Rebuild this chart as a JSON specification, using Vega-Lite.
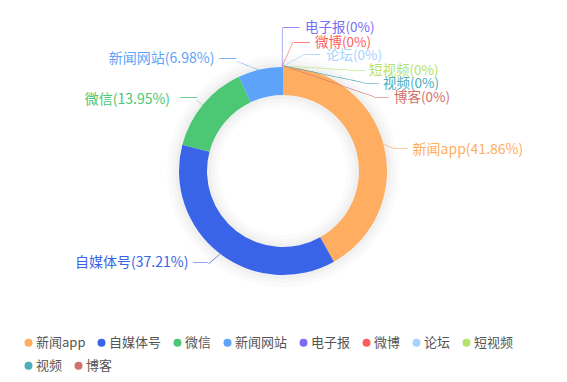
{
  "$schema": "https://vega.github.io/schema/vega-lite/v6.json",
  "width": 566,
  "height": 342,
  "padding": {"left": 0, "top": 0, "right": 1, "bottom": 40},
  "autosize": {"type": "none"},
  "background": "white",
  "config": {"view": {"stroke": null}, "font": "Noto Sans CJK SC", "text": {"font": "Noto Sans CJK SC", "baseline": "middle"}},
  "resolve": {"scale": {"color": "independent"}, "legend": {"color": "independent"}},
  "data": {"values": [
    {"name": "新闻app", "value": 18, "label": "新闻app(41.86%)", "idx": 1},
    {"name": "自媒体号", "value": 16, "label": "自媒体号(37.21%)", "idx": 2},
    {"name": "微信", "value": 6, "label": "微信(13.95%)", "idx": 3},
    {"name": "新闻网站", "value": 3, "label": "新闻网站(6.98%)", "idx": 4},
    {"name": "电子报", "value": 0, "label": "电子报(0%)", "idx": 5},
    {"name": "微博", "value": 0, "label": "微博(0%)", "idx": 6},
    {"name": "论坛", "value": 0, "label": "论坛(0%)", "idx": 7},
    {"name": "短视频", "value": 0, "label": "短视频(0%)", "idx": 8},
    {"name": "视频", "value": 0, "label": "视频(0%)", "idx": 9},
    {"name": "博客", "value": 0, "label": "博客(0%)", "idx": 10}
  ]},
  "layer": [
    {"data": {"values": [{}]}, "mark": {"type": "arc", "theta": 0, "theta2": 6.2832, "innerRadius": 64, "outerRadius": 116, "fill": "#000", "opacity": 0.015}, "encoding": {}},
    {"data": {"values": [{}]}, "mark": {"type": "arc", "theta": 0, "theta2": 6.2832, "innerRadius": 68, "outerRadius": 112, "fill": "#000", "opacity": 0.02}, "encoding": {}},
    {"data": {"values": [{}]}, "mark": {"type": "arc", "theta": 0, "theta2": 6.2832, "innerRadius": 72, "outerRadius": 108, "fill": "#000", "opacity": 0.025}, "encoding": {}},
    {
      "encoding": {
        "theta": {"field": "value", "type": "quantitative", "stack": true},
        "order": {"field": "idx", "type": "quantitative"},
        "color": {"field": "name", "type": "nominal", "legend": null,
          "scale": {"domain": ["新闻app", "自媒体号", "微信", "新闻网站", "电子报", "微博", "论坛", "短视频", "视频", "博客"],
                    "range": ["#FFAD60", "#3A64E8", "#4CC774", "#5EA3FA", "#7B6CF6", "#FF5E5E", "#A7D3FF", "#B4E36B", "#4BAEB8", "#D1716C"]}}
      },
      "layer": [
        {"mark": {"type": "arc", "innerRadius": 76, "outerRadius": 104}},

        {"mark": {"type": "text", "radius": 104, "align": "left", "dx": 29, "dy": 5, "fontSize": 14},
         "encoding": {"text": {"condition": {"test": "datum.name === '新闻app'", "field": "label"}, "value": ""}}},
        {"mark": {"type": "text", "radius": 104, "align": "center", "dx": 17.9, "dy": 4.8, "fontSize": 13},
         "encoding": {"text": {"condition": {"test": "datum.name === '新闻app'", "value": "─"}, "value": ""}}},
        {"mark": {"type": "text", "radius": 104, "align": "center", "dx": 6.2, "dy": 0, "angle": 22.8, "fontSize": 12.4},
         "encoding": {"text": {"condition": {"test": "datum.name === '新闻app'", "value": "─"}, "value": ""}}},

        {"mark": {"type": "text", "radius": 104, "align": "right", "dx": -31, "dy": 10, "fontSize": 14},
         "encoding": {"text": {"condition": {"test": "datum.name === '自媒体号'", "field": "label"}, "value": ""}}},
        {"mark": {"type": "text", "radius": 104, "align": "center", "dx": -19, "dy": 9.9, "fontSize": 15},
         "encoding": {"text": {"condition": {"test": "datum.name === '自媒体号'", "value": "─"}, "value": ""}}},
        {"mark": {"type": "text", "radius": 104, "align": "center", "dx": 7.6, "dy": 0, "angle": 139.3, "fontSize": 15.2},
         "encoding": {"text": {"condition": {"test": "datum.name === '自媒体号'", "value": "─"}, "value": ""}}},

        {"mark": {"type": "text", "radius": 104, "align": "right", "dx": -33, "dy": -4, "fontSize": 14},
         "encoding": {"text": {"condition": {"test": "datum.name === '微信'", "field": "label"}, "value": ""}}},
        {"mark": {"type": "text", "radius": 104, "align": "center", "dx": -14.6, "dy": -5.5, "fontSize": 17},
         "encoding": {"text": {"condition": {"test": "datum.name === '微信'", "value": "─"}, "value": ""}}},
        {"mark": {"type": "text", "radius": 104, "align": "center", "dx": 4.1, "dy": 0, "angle": -138, "fontSize": 8.2},
         "encoding": {"text": {"condition": {"test": "datum.name === '微信'", "value": "─"}, "value": ""}}},

        {"mark": {"type": "text", "radius": 104, "align": "right", "dx": -46, "dy": -10, "fontSize": 14},
         "encoding": {"text": {"condition": {"test": "datum.name === '新闻网站'", "field": "label"}, "value": ""}}},
        {"mark": {"type": "text", "radius": 104, "align": "center", "dx": -32.9, "dy": -9.5, "fontSize": 17},
         "encoding": {"text": {"condition": {"test": "datum.name === '新闻网站'", "value": "─"}, "value": ""}}},
        {"mark": {"type": "text", "radius": 104, "align": "center", "dx": 13.1, "dy": 0, "angle": -158.7, "fontSize": 13.1},
         "encoding": {"text": {"condition": {"test": "datum.name === '新闻网站'", "value": "──"}, "value": ""}}},

        {"mark": {"type": "text", "radius": 104, "align": "left", "dx": 22, "dy": -39, "fontSize": 13.5},
         "encoding": {"text": {"condition": {"test": "datum.name === '电子报'", "field": "label"}, "value": ""}}},
        {"mark": {"type": "text", "radius": 104, "align": "center", "dx": 8.2, "dy": -39.5, "fontSize": 16.3},
         "encoding": {"text": {"condition": {"test": "datum.name === '电子报'", "value": "─"}, "value": ""}}},
        {"mark": {"type": "text", "radius": 104, "align": "center", "dx": 19.75, "dy": 0, "angle": -90, "fontSize": 13.17},
         "encoding": {"text": {"condition": {"test": "datum.name === '电子报'", "value": "───"}, "value": ""}}},

        {"mark": {"type": "text", "radius": 104, "align": "left", "dx": 32, "dy": -24, "fontSize": 13.5},
         "encoding": {"text": {"condition": {"test": "datum.name === '微博'", "field": "label"}, "value": ""}}},
        {"mark": {"type": "text", "radius": 104, "align": "center", "dx": 19, "dy": -24.5, "fontSize": 16},
         "encoding": {"text": {"condition": {"test": "datum.name === '微博'", "value": "─"}, "value": ""}}},
        {"mark": {"type": "text", "radius": 104, "align": "center", "dx": 13.4, "dy": 0, "angle": -65.8, "fontSize": 13.45},
         "encoding": {"text": {"condition": {"test": "datum.name === '微博'", "value": "──"}, "value": ""}}},

        {"mark": {"type": "text", "radius": 104, "align": "left", "dx": 43, "dy": -11, "fontSize": 13.5},
         "encoding": {"text": {"condition": {"test": "datum.name === '论坛'", "field": "label"}, "value": ""}}},
        {"mark": {"type": "text", "radius": 104, "align": "center", "dx": 29, "dy": -12, "fontSize": 16},
         "encoding": {"text": {"condition": {"test": "datum.name === '论坛'", "value": "─"}, "value": ""}}},
        {"mark": {"type": "text", "radius": 104, "align": "center", "dx": 12.1, "dy": 0, "angle": -29.7, "fontSize": 12.1},
         "encoding": {"text": {"condition": {"test": "datum.name === '论坛'", "value": "──"}, "value": ""}}},

        {"mark": {"type": "text", "radius": 104, "align": "left", "dx": 86, "dy": 4, "fontSize": 13.5},
         "encoding": {"text": {"condition": {"test": "datum.name === '短视频'", "field": "label"}, "value": ""}}},
        {"mark": {"type": "text", "radius": 104, "align": "center", "dx": 74.5, "dy": 4, "fontSize": 15},
         "encoding": {"text": {"condition": {"test": "datum.name === '短视频'", "value": "─"}, "value": ""}}},
        {"mark": {"type": "text", "radius": 104, "align": "center", "dx": 33.6, "dy": 0, "angle": 3.4, "fontSize": 13.4},
         "encoding": {"text": {"condition": {"test": "datum.name === '短视频'", "value": "─────"}, "value": ""}}},

        {"mark": {"type": "text", "radius": 104, "align": "left", "dx": 100, "dy": 17, "fontSize": 13.5},
         "encoding": {"text": {"condition": {"test": "datum.name === '视频'", "field": "label"}, "value": ""}}},
        {"mark": {"type": "text", "radius": 104, "align": "center", "dx": 88.5, "dy": 17, "fontSize": 15},
         "encoding": {"text": {"condition": {"test": "datum.name === '视频'", "value": "─"}, "value": ""}}},
        {"mark": {"type": "text", "radius": 104, "align": "center", "dx": 41.4, "dy": 0, "angle": 11.85, "fontSize": 13.8},
         "encoding": {"text": {"condition": {"test": "datum.name === '视频'", "value": "──────"}, "value": ""}}},

        {"mark": {"type": "text", "radius": 104, "align": "left", "dx": 111, "dy": 31, "fontSize": 13.5},
         "encoding": {"text": {"condition": {"test": "datum.name === '博客'", "field": "label"}, "value": ""}}},
        {"mark": {"type": "text", "radius": 104, "align": "center", "dx": 98.5, "dy": 31, "fontSize": 15},
         "encoding": {"text": {"condition": {"test": "datum.name === '博客'", "value": "─"}, "value": ""}}},
        {"mark": {"type": "text", "radius": 104, "align": "center", "dx": 48, "dy": 0, "angle": 18.8, "fontSize": 13.73},
         "encoding": {"text": {"condition": {"test": "datum.name === '博客'", "value": "───────"}, "value": ""}}}
      ]
    },
    {
      "transform": [{"filter": {"field": "name", "oneOf": ["新闻app", "自媒体号", "微信", "新闻网站", "电子报", "微博", "论坛", "短视频"]}}],
      "mark": {"type": "arc", "innerRadius": 0, "outerRadius": 0},
      "encoding": {
        "theta": {"field": "value", "type": "quantitative", "stack": true},
        "order": {"field": "idx", "type": "quantitative"},
        "color": {"field": "name", "type": "nominal",
          "scale": {"domain": ["新闻app", "自媒体号", "微信", "新闻网站", "电子报", "微博", "论坛", "短视频"],
                    "range": ["#FFAD60", "#3A64E8", "#4CC774", "#5EA3FA", "#7B6CF6", "#FF5E5E", "#A7D3FF", "#B4E36B"]},
          "legend": {"orient": "none", "legendX": 22, "legendY": 336, "direction": "horizontal", "title": null,
            "symbolType": "circle", "symbolSize": 64, "labelFontSize": 13, "labelColor": "#555", "columnPadding": 9,
            "labelOffset": 1, "symbolStrokeWidth": 0, "labelFont": "Noto Sans CJK SC"}}
      }
    },
    {
      "transform": [{"filter": {"field": "name", "oneOf": ["视频", "博客"]}}],
      "mark": {"type": "arc", "innerRadius": 0, "outerRadius": 0},
      "encoding": {
        "theta": {"field": "value", "type": "quantitative", "stack": true},
        "order": {"field": "idx", "type": "quantitative"},
        "color": {"field": "name", "type": "nominal",
          "scale": {"domain": ["视频", "博客"], "range": ["#4BAEB8", "#D1716C"]},
          "legend": {"orient": "none", "legendX": 22, "legendY": 359, "direction": "horizontal", "title": null,
            "symbolType": "circle", "symbolSize": 64, "labelFontSize": 13, "labelColor": "#555", "columnPadding": 9,
            "labelOffset": 1, "symbolStrokeWidth": 0, "labelFont": "Noto Sans CJK SC"}}
      }
    }
  ]
}
